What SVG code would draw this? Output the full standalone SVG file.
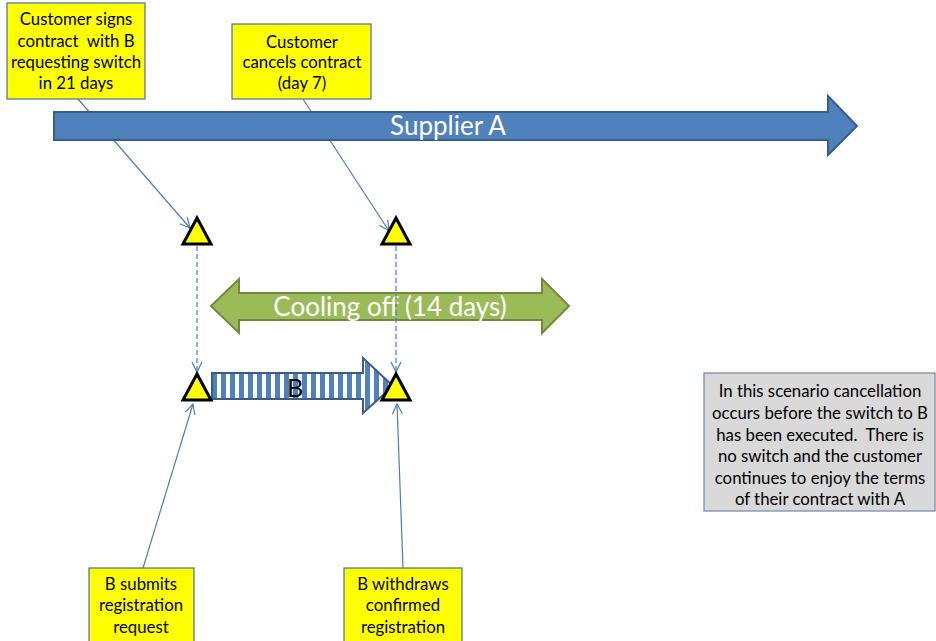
<svg xmlns="http://www.w3.org/2000/svg" width="936" height="641" viewBox="0 0 936 641">
<style>
.box{fill:#FFFF00;stroke:#4A6FA0;stroke-width:1.2}
.bt{font-family:Lato,"Liberation Sans",sans-serif;font-size:16.8px;fill:#000;text-anchor:middle}
.gt{font-family:Lato,"Liberation Sans",sans-serif;font-size:16.8px;fill:#000;text-anchor:middle}
.tri{fill:#FFFF00;stroke:#000;stroke-width:3;stroke-linejoin:miter}
.con{fill:none;stroke:#4A7EBB;stroke-width:1.2}
.dash{stroke-dasharray:5 3}
.big{font-family:Lato,"Liberation Sans",sans-serif;font-size:26px;fill:#fff;text-anchor:middle}
</style>
<defs>
<marker id="ah" viewBox="0 0 12 12" refX="11" refY="6" markerWidth="12" markerHeight="12" markerUnits="userSpaceOnUse" orient="auto">
<path d="M1,1 L11,6 L1,11" fill="none" stroke="#4A7EBB" stroke-width="1.2"/>
</marker>
<pattern id="stripes" x="212" y="0" width="9" height="10" patternUnits="userSpaceOnUse">
<rect x="0" y="0" width="9" height="10" fill="#fff"/>
<rect x="0" y="0" width="5" height="10" fill="#4F81BD"/>
</pattern>
</defs>
<rect width="936" height="641" fill="#fff"/>

<g id="cooling-off">
<polygon points="211,306 239,279 239,293 542,293 542,279 569,306 542,333 542,320 239,320 239,333" fill="#9BBB59" stroke="#71893F" stroke-width="2"/>
<text class="big" x="390" y="316">Cooling off (14 days)</text>
</g>

<g id="connectors">
<line class="con" x1="78" y1="99" x2="190" y2="228" marker-end="url(#ah)"/>
<line class="con" x1="303" y1="99" x2="389" y2="231" marker-end="url(#ah)"/>
<line class="con dash" x1="197" y1="246" x2="197" y2="372" marker-end="url(#ah)"/>
<line class="con dash" x1="396" y1="246" x2="396" y2="372" marker-end="url(#ah)"/>
<line class="con" x1="143" y1="568" x2="193" y2="404" marker-end="url(#ah)"/>
<line class="con" x1="403" y1="568" x2="397" y2="404" marker-end="url(#ah)"/>
</g>

<g id="supplier-a">
<polygon points="54,112 828,112 828,96 857,126 828,155 828,140 54,140" fill="#4F81BD" stroke="#385D8A" stroke-width="2"/>
<text class="big" x="448" y="135">Supplier A</text>
</g>

<g id="b-arrow">
<polygon points="212,373 363,373 363,358 393,386 363,413 363,399 212,399" fill="url(#stripes)" stroke="#385D8A" stroke-width="2"/>
<text x="295" y="397" font-family="Lato,'Liberation Sans',sans-serif" font-size="25" fill="#000" text-anchor="middle">B</text>
</g>

<g id="box-signs">
<rect class="box" x="7" y="3" width="138" height="96"/>
<text class="bt" x="76" y="25">Customer signs</text>
<text class="bt" x="76" y="47" xml:space="preserve">contract  with B</text>
<text class="bt" x="76" y="68">requesting switch</text>
<text class="bt" x="76" y="89">in 21 days</text>
</g>

<g id="box-cancels">
<rect class="box" x="232" y="24" width="139" height="75"/>
<text class="bt" x="302" y="48">Customer</text>
<text class="bt" x="302" y="68">cancels contract</text>
<text class="bt" x="302" y="89">(day 7)</text>
</g>

<g id="box-submits">
<rect class="box" x="89" y="568" width="105" height="85"/>
<text class="bt" x="141" y="590">B submits</text>
<text class="bt" x="141" y="611">registration</text>
<text class="bt" x="141" y="633">request</text>
</g>

<g id="box-withdraws">
<rect class="box" x="344" y="568" width="118" height="85"/>
<text class="bt" x="403" y="590">B withdraws</text>
<text class="bt" x="403" y="611">confirmed</text>
<text class="bt" x="403" y="633">registration</text>
</g>

<g id="tri-1"><polygon class="tri" points="197,218 183,244 211,244"/></g>
<g id="tri-2"><polygon class="tri" points="396,218 382,244 410,244"/></g>
<g id="tri-3"><polygon class="tri" points="197,374 183,400 211,400"/></g>
<g id="tri-4"><polygon class="tri" points="396,374 382,400 410,400"/></g>

<g id="note">
<rect x="704" y="373" width="231" height="138" fill="#D9D9D9" stroke="#6F87A8" stroke-width="1.2"/>
<text class="gt" x="820" y="397">In this scenario cancellation</text>
<text class="gt" x="820" y="419">occurs before the switch to B</text>
<text class="gt" x="820" y="441" xml:space="preserve">has been executed.  There is</text>
<text class="gt" x="820" y="462">no switch and the customer</text>
<text class="gt" x="820" y="484">continues to enjoy the terms</text>
<text class="gt" x="820" y="505">of their contract with A</text>
</g>
</svg>
